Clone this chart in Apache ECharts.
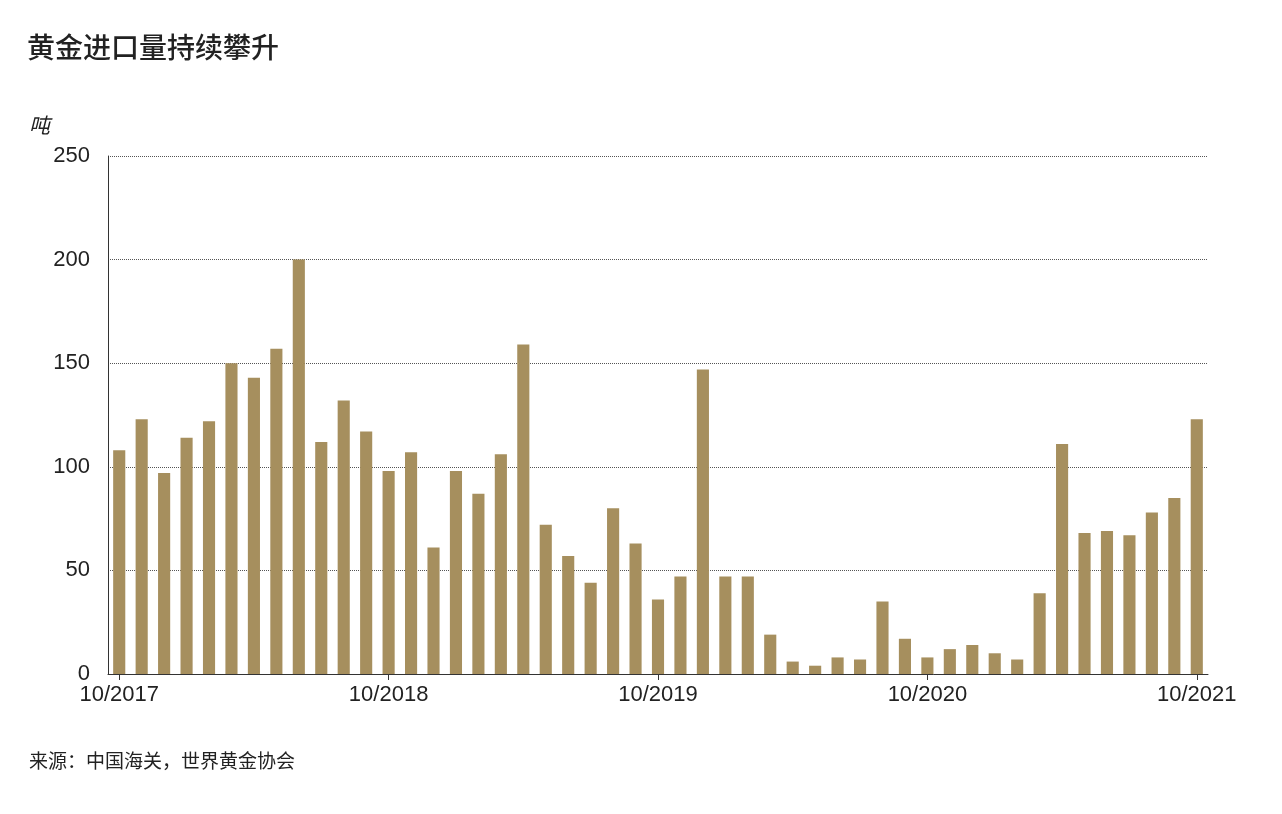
<!DOCTYPE html>
<html><head><meta charset="utf-8">
<script src="https://cdn.jsdelivr.net/npm/echarts@6/dist/echarts.min.js"></script>
<style>html,body{margin:0;padding:0;background:#fff}#c{width:1282px;height:814px}</style>
</head><body><div id="c"></div>
<script>
const categories = [];
(function(){let y=2017,m=10;for(let i=0;i<49;i++){categories.push(m+'/'+y);m++;if(m>12){m=1;y++;}}})();
const values = [108,123,97,114,122,150,143,157,200,112,132,117,98,107,61,98,87,106,159,72,57,44,80,63,36,47,147,47,47,19,6,4,8,7,35,17,8,12,14,10,7,39,111,68,69,67,78,85,123];
const yTicks = [0,50,100,150,200,250];
const chart = echarts.init(document.getElementById('c'));
const ff = '"Noto Sans CJK SC","Liberation Sans",sans-serif';
chart.setOption({
  animation:false,
  title:[{text:'黄金进口量持续攀升',left:22,top:28,textStyle:{fontFamily:ff,fontSize:28,fontWeight:500,color:'#222'}},
         {text:'吨',left:24,top:110,textStyle:{fontFamily:ff,fontSize:21,fontWeight:'normal',fontStyle:'italic',color:'#222'}},
         {text:'来源：中国海关，世界黄金协会',left:24,top:746,textStyle:{fontFamily:ff,fontSize:19,fontWeight:'normal',color:'#222'}}],
  grid:{left:108,right:74,top:156,bottom:140},
  xAxis:{type:'category',data:categories,boundaryGap:true,
    axisLine:{lineStyle:{color:'#333'}},
    axisTick:{show:true,interval:11,alignWithLabel:true,length:6,lineStyle:{color:'#333'}},
    axisLabel:{interval:11,fontSize:22,color:'#222',fontFamily:'"Liberation Sans",sans-serif',margin:10}},
  yAxis:{type:'value',min:0,max:250,interval:50,
    axisLine:{show:true,lineStyle:{color:'#333'}},
    axisLabel:{fontSize:22,color:'#222',fontFamily:'"Liberation Sans",sans-serif',margin:18},
    splitLine:{lineStyle:{color:'#555',type:'dotted'}}},
  series:[{type:'bar',data:values,barWidth:'54%',itemStyle:{color:'#a68f5e'}}]
});
</script></body></html>
